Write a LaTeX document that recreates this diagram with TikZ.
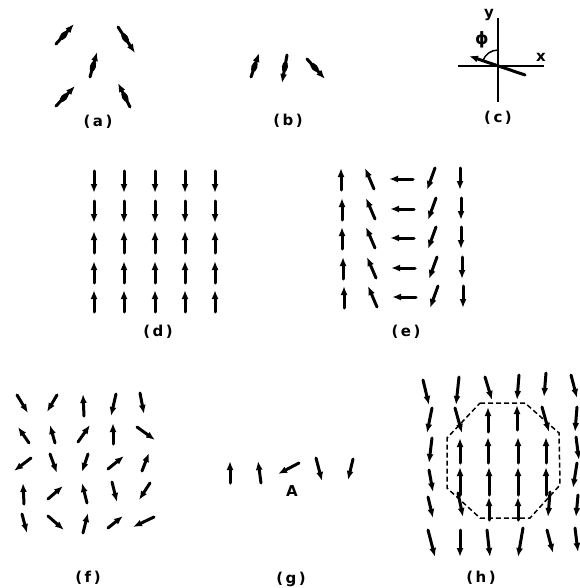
\documentclass[tikz,border=0pt]{standalone}
\usepackage{fontspec}
\setmainfont{DejaVu Sans}
\usetikzlibrary{arrows.meta,shapes.geometric}
\tikzset{
  sp/.style={line width=3pt, line cap=round, -{Latex[length=9pt,width=7pt]}},
  axis/.style={line width=1.5pt},
  bulge/.style={ellipse, fill, inner sep=0pt, minimum width=11pt, minimum height=6pt, sloped, pos=0.42},
  lab/.style={font=\bfseries\fontsize{15}{17}\selectfont, inner sep=0pt},
  oct/.style={line width=1.5pt, dash pattern=on 5pt off 3pt}
}
\begin{document}
\begin{tikzpicture}[x=1pt,y=-1pt]
\useasboundingbox (0,0) rectangle (579,588);
% (a)
\draw[sp] (56,44) -- (74,24) node[bulge]{};
\draw[sp] (118,27) -- (135,53) node[bulge]{};
\draw[sp] (90,77) -- (97,52) node[bulge]{};
\draw[sp] (56,106) -- (75,86) node[bulge]{};
\draw[sp] (130,107) -- (118,83) node[bulge]{};
\node[lab] (la) at (98,122) {(\hspace{2.5pt}a\hspace{2.5pt})};
% (b)
\draw[sp] (251,77) -- (259,53) node[bulge]{};
\draw[sp] (287,55) -- (282,83) node[bulge]{};
\draw[sp] (307,59) -- (325,79) node[bulge]{};
\node[lab] (lb) at (288,121) {(\hspace{2.5pt}b\hspace{2.5pt})};
% (c)
\draw[axis] (498,18) -- (498,102);
\draw[axis] (458,66) -- (544,66);
\draw[sp] (525,75) -- (469,56);
\draw[axis] (498,50) arc[start angle=270, end angle=199, radius=16];
\node[lab] (ly) at (489,15) {y};
\node[lab] (lx) at (541,57) {x};
\node[lab, font=\bfseries\fontsize{17}{19}\selectfont] (lphi) at (482,40) {ϕ};
\node[lab] (lc) at (498,118) {(\hspace{2.5pt}c\hspace{2.5pt})};
% (d)
\foreach \c in {94,124,155,185,215}{
  \foreach \y in {182,212}{
    \draw[sp] (\c,\y-11) -- (\c,\y+11);
  }
  \foreach \y in {242,272,301}{
    \draw[sp] (\c,\y+11) -- (\c,\y-11);
  }
}
\node[lab] (ld) at (158,332) {(\hspace{2.5pt}d\hspace{2.5pt})};
% (e)
\foreach \yy/\dx in {179/0,209/1,238/1,268/2,297/3}{
  \draw[sp] ({341+\dx},\yy+11) -- ({341+\dx},\yy-11);
  \draw[sp] ({374+\dx},\yy+10) -- ({365+\dx},\yy-11);
  \draw[sp] ({413+\dx},\yy) -- ({389+\dx},\yy);
  \draw[sp] ({435+\dx},\yy-11) -- ({427+\dx},\yy+11);
  \draw[sp] ({460+\dx},\yy-11) -- ({460+\dx},\yy+11);
}
\node[lab] (le) at (406,332) {(\hspace{2.5pt}e\hspace{2.5pt})};
% (f)
\draw[sp] (17,395) -- (28,413);
\draw[sp] (57,395) -- (47,412);
\draw[sp] (84,416) -- (83,394);
\draw[sp] (116,394) -- (111,416);
\draw[sp] (140,393) -- (144,414);
\draw[sp] (29,443) -- (18,427);
\draw[sp] (55,443) -- (50,425);
\draw[sp] (78,442) -- (90,425);
\draw[sp] (113,444) -- (113,423);
\draw[sp] (137,427) -- (155,440);
\draw[sp] (31,458) -- (14,471);
\draw[sp] (50,454) -- (57,473);
\draw[sp] (88,454) -- (82,472);
\draw[sp] (108,469) -- (124,456);
\draw[sp] (142,471) -- (149,453);
\draw[sp] (24,504) -- (23,483);
\draw[sp] (48,499) -- (63,486);
\draw[sp] (87,503) -- (82,483);
\draw[sp] (112,482) -- (117,502);
\draw[sp] (150,483) -- (139,500);
\draw[sp] (22,514) -- (27,533);
\draw[sp] (48,516) -- (64,530);
\draw[sp] (83,533) -- (88,513);
\draw[sp] (108,528) -- (123,516);
\draw[sp] (154,517) -- (133,527);
\node[lab] (lf) at (88,578) {(\hspace{2.5pt}f\hspace{2.5pt})};
% (g)
\draw[sp] (230,483) -- (230,461);
\draw[sp] (261,483) -- (258,461);
\draw[sp] (299,463) -- (278,474);
\draw[sp] (316,458) -- (322,481);
\draw[sp] (353,459) -- (348,480);
\node[lab] (lA) at (292,491) {A};
\node[lab] (lg) at (291,579) {(\hspace{2.5pt}g\hspace{2.5pt})};
% (h)
\draw[oct] (480,403) -- (525,403) -- (559,433) -- (560,485) -- (530,518) -- (480,518) -- (447,488) -- (447,438) -- cycle;
\draw[sp] (423,380) -- (429,405);
\draw[sp] (459,377) -- (456,405);
\draw[sp] (485,377) -- (492,400);
\draw[sp] (519,375) -- (517,400);
\draw[sp] (546,373) -- (544,397);
\draw[sp] (571,375) -- (577,398);
\draw[sp] (432,408) -- (427,433);
\draw[sp] (455,408) -- (462,433);
\draw[sp] (488,432) -- (488,407);
\draw[sp] (517,430) -- (517,405);
\draw[sp] (542,407) -- (549,432);
\draw[sp] (577,407) -- (575,432);
\draw[sp] (432,438) -- (429,463);
\draw[sp] (460,463) -- (460,438);
\draw[sp] (488,463) -- (488,437);
\draw[sp] (518,463) -- (518,437);
\draw[sp] (546,463) -- (546,437);
\draw[sp] (576,437) -- (579,460);
\draw[sp] (429,470) -- (433,492);
\draw[sp] (460,495) -- (460,467);
\draw[sp] (489,495) -- (489,467);
\draw[sp] (518,495) -- (518,467);
\draw[sp] (546,495) -- (546,467);
\draw[sp] (577,463) -- (573,488);
\draw[sp] (428,497) -- (433,518);
\draw[sp] (458,493) -- (463,517);
\draw[sp] (489,520) -- (489,497);
\draw[sp] (518,520) -- (518,497);
\draw[sp] (550,492) -- (548,517);
\draw[sp] (578,495) -- (576,517);
\draw[sp] (428,530) -- (435,557);
\draw[sp] (460,530) -- (460,557);
\draw[sp] (487,530) -- (490,557);
\draw[sp] (523,528) -- (518,557);
\draw[sp] (547,530) -- (553,553);
\draw[sp] (575,528) -- (578,552);
\node[lab] (lh) at (481,578) {(\hspace{2.5pt}h\hspace{2.5pt})};
\end{tikzpicture}
\end{document}
